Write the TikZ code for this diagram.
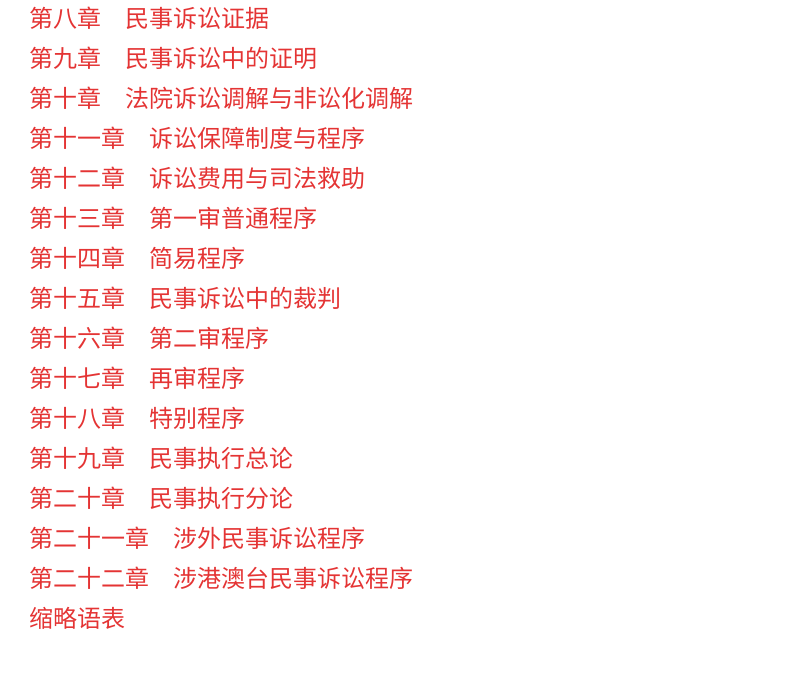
\documentclass[tikz,border=0pt]{standalone}
\usepackage{fontspec}
\newfontfamily\cjk{Noto Sans CJK SC}
\definecolor{tocred}{RGB}{228,52,52}
\begin{document}
\begin{tikzpicture}[x=1bp,y=1bp,
  entry/.style={anchor=base west,inner sep=0pt,text=tocred,font=\cjk\fontsize{24bp}{24bp}\selectfont}]
\useasboundingbox (0,0) rectangle (789,690);
\foreach \t [count=\i] in {
  第八章　民事诉讼证据,
  第九章　民事诉讼中的证明,
  第十章　法院诉讼调解与非讼化调解,
  第十一章　诉讼保障制度与程序,
  第十二章　诉讼费用与司法救助,
  第十三章　第一审普通程序,
  第十四章　简易程序,
  第十五章　民事诉讼中的裁判,
  第十六章　第二审程序,
  第十七章　再审程序,
  第十八章　特别程序,
  第十九章　民事执行总论,
  第二十章　民事执行分论,
  第二十一章　涉外民事诉讼程序,
  第二十二章　涉港澳台民事诉讼程序,
  缩略语表}
  \node[entry] (l\i) at (29.3,{662.5-40*(\i-1)}) {\t};
\end{tikzpicture}
\end{document}
